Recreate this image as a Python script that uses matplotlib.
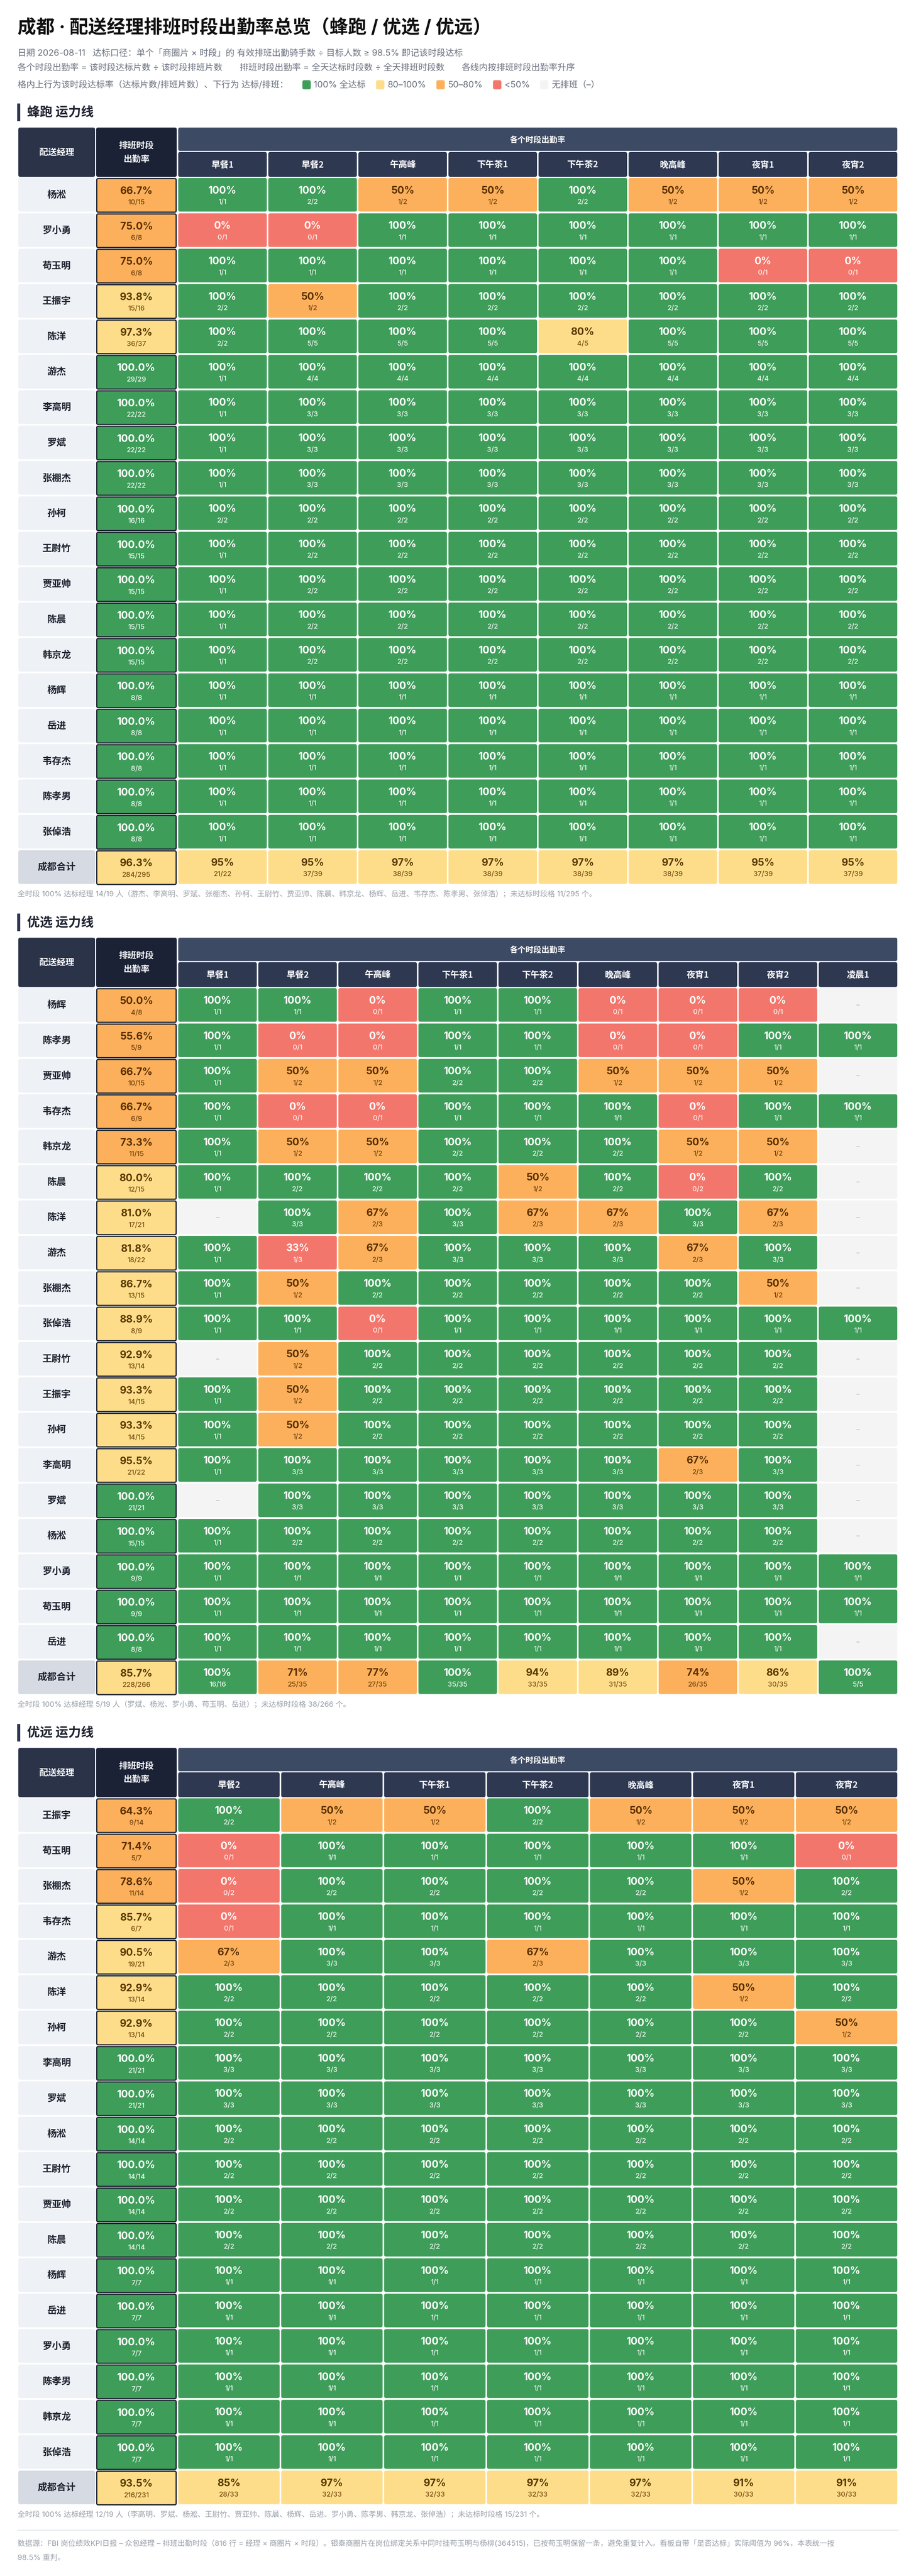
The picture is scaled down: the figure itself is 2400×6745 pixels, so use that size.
import matplotlib
matplotlib.use("Agg")
import matplotlib.pyplot as plt
from matplotlib.patches import FancyBboxPatch, Rectangle

# ---- data ---------------------------------------------------------------
fengpao_slots = ["早餐1", "早餐2", "午高峰", "下午茶1", "下午茶2", "晚高峰", "夜宵1", "夜宵2"]
fengpao_names = ["杨淞", "罗小勇", "苟玉明", "王振宇", "陈洋", "游杰", "李高明", "罗斌", "张棚杰",
                 "孙柯", "王尉竹", "贾亚帅", "陈晨", "韩京龙", "杨辉", "岳进", "韦存杰", "陈孝男", "张倬浩"]
fengpao_rates = ["10/15", "6/8", "6/8", "15/16", "36/37", "29/29", "22/22", "22/22", "22/22",
                 "16/16", "15/15", "15/15", "15/15", "15/15", "8/8", "8/8", "8/8", "8/8", "8/8"]
fengpao_cells = [
    "1/1 2/2 1/2 1/2 2/2 1/2 1/2 1/2",
    "0/1 0/1 1/1 1/1 1/1 1/1 1/1 1/1",
    "1/1 1/1 1/1 1/1 1/1 1/1 0/1 0/1",
    "2/2 1/2 2/2 2/2 2/2 2/2 2/2 2/2",
    "2/2 5/5 5/5 5/5 4/5 5/5 5/5 5/5",
    "1/1 4/4 4/4 4/4 4/4 4/4 4/4 4/4",
    "1/1 3/3 3/3 3/3 3/3 3/3 3/3 3/3",
    "1/1 3/3 3/3 3/3 3/3 3/3 3/3 3/3",
    "1/1 3/3 3/3 3/3 3/3 3/3 3/3 3/3",
    "2/2 2/2 2/2 2/2 2/2 2/2 2/2 2/2",
    "1/1 2/2 2/2 2/2 2/2 2/2 2/2 2/2",
    "1/1 2/2 2/2 2/2 2/2 2/2 2/2 2/2",
    "1/1 2/2 2/2 2/2 2/2 2/2 2/2 2/2",
    "1/1 2/2 2/2 2/2 2/2 2/2 2/2 2/2",
    "1/1 1/1 1/1 1/1 1/1 1/1 1/1 1/1",
    "1/1 1/1 1/1 1/1 1/1 1/1 1/1 1/1",
    "1/1 1/1 1/1 1/1 1/1 1/1 1/1 1/1",
    "1/1 1/1 1/1 1/1 1/1 1/1 1/1 1/1",
    "1/1 1/1 1/1 1/1 1/1 1/1 1/1 1/1",
]
fengpao_total_rate = "284/295"
fengpao_total_cells = "21/22 37/39 38/39 38/39 38/39 38/39 37/39 37/39"
fengpao_note = ("全时段 100% 达标经理 14/19 人（游杰、李高明、罗斌、张棚杰、孙柯、王尉竹、贾亚帅、陈晨、"
                "韩京龙、杨辉、岳进、韦存杰、陈孝男、张倬浩）；未达标时段格 11/295 个。")

youxuan_slots = ["早餐1", "早餐2", "午高峰", "下午茶1", "下午茶2", "晚高峰", "夜宵1", "夜宵2", "凌晨1"]
youxuan_names = ["杨辉", "陈孝男", "贾亚帅", "韦存杰", "韩京龙", "陈晨", "陈洋", "游杰", "张棚杰",
                 "张倬浩", "王尉竹", "王振宇", "孙柯", "李高明", "罗斌", "杨淞", "罗小勇", "苟玉明", "岳进"]
youxuan_rates = ["4/8", "5/9", "10/15", "6/9", "11/15", "12/15", "17/21", "18/22", "13/15",
                 "8/9", "13/14", "14/15", "14/15", "21/22", "21/21", "15/15", "9/9", "9/9", "8/8"]
youxuan_cells = [
    "1/1 1/1 0/1 1/1 1/1 0/1 0/1 0/1 -",
    "1/1 0/1 0/1 1/1 1/1 0/1 0/1 1/1 1/1",
    "1/1 1/2 1/2 2/2 2/2 1/2 1/2 1/2 -",
    "1/1 0/1 0/1 1/1 1/1 1/1 0/1 1/1 1/1",
    "1/1 1/2 1/2 2/2 2/2 2/2 1/2 1/2 -",
    "1/1 2/2 2/2 2/2 1/2 2/2 0/2 2/2 -",
    "- 3/3 2/3 3/3 2/3 2/3 3/3 2/3 -",
    "1/1 1/3 2/3 3/3 3/3 3/3 2/3 3/3 -",
    "1/1 1/2 2/2 2/2 2/2 2/2 2/2 1/2 -",
    "1/1 1/1 0/1 1/1 1/1 1/1 1/1 1/1 1/1",
    "- 1/2 2/2 2/2 2/2 2/2 2/2 2/2 -",
    "1/1 1/2 2/2 2/2 2/2 2/2 2/2 2/2 -",
    "1/1 1/2 2/2 2/2 2/2 2/2 2/2 2/2 -",
    "1/1 3/3 3/3 3/3 3/3 3/3 2/3 3/3 -",
    "- 3/3 3/3 3/3 3/3 3/3 3/3 3/3 -",
    "1/1 2/2 2/2 2/2 2/2 2/2 2/2 2/2 -",
    "1/1 1/1 1/1 1/1 1/1 1/1 1/1 1/1 1/1",
    "1/1 1/1 1/1 1/1 1/1 1/1 1/1 1/1 1/1",
    "1/1 1/1 1/1 1/1 1/1 1/1 1/1 1/1 -",
]
youxuan_total_rate = "228/266"
youxuan_total_cells = "16/16 25/35 27/35 35/35 33/35 31/35 26/35 30/35 5/5"
youxuan_note = "全时段 100% 达标经理 5/19 人（罗斌、杨淞、罗小勇、苟玉明、岳进）；未达标时段格 38/266 个。"

youyuan_slots = ["早餐2", "午高峰", "下午茶1", "下午茶2", "晚高峰", "夜宵1", "夜宵2"]
youyuan_names = ["王振宇", "苟玉明", "张棚杰", "韦存杰", "游杰", "陈洋", "孙柯", "李高明", "罗斌",
                 "杨淞", "王尉竹", "贾亚帅", "陈晨", "杨辉", "岳进", "罗小勇", "陈孝男", "韩京龙", "张倬浩"]
youyuan_rates = ["9/14", "5/7", "11/14", "6/7", "19/21", "13/14", "13/14", "21/21", "21/21",
                 "14/14", "14/14", "14/14", "14/14", "7/7", "7/7", "7/7", "7/7", "7/7", "7/7"]
youyuan_cells = [
    "2/2 1/2 1/2 2/2 1/2 1/2 1/2",
    "0/1 1/1 1/1 1/1 1/1 1/1 0/1",
    "0/2 2/2 2/2 2/2 2/2 1/2 2/2",
    "0/1 1/1 1/1 1/1 1/1 1/1 1/1",
    "2/3 3/3 3/3 2/3 3/3 3/3 3/3",
    "2/2 2/2 2/2 2/2 2/2 1/2 2/2",
    "2/2 2/2 2/2 2/2 2/2 2/2 1/2",
    "3/3 3/3 3/3 3/3 3/3 3/3 3/3",
    "3/3 3/3 3/3 3/3 3/3 3/3 3/3",
    "2/2 2/2 2/2 2/2 2/2 2/2 2/2",
    "2/2 2/2 2/2 2/2 2/2 2/2 2/2",
    "2/2 2/2 2/2 2/2 2/2 2/2 2/2",
    "2/2 2/2 2/2 2/2 2/2 2/2 2/2",
    "1/1 1/1 1/1 1/1 1/1 1/1 1/1",
    "1/1 1/1 1/1 1/1 1/1 1/1 1/1",
    "1/1 1/1 1/1 1/1 1/1 1/1 1/1",
    "1/1 1/1 1/1 1/1 1/1 1/1 1/1",
    "1/1 1/1 1/1 1/1 1/1 1/1 1/1",
    "1/1 1/1 1/1 1/1 1/1 1/1 1/1",
]
youyuan_total_rate = "216/231"
youyuan_total_cells = "28/33 32/33 32/33 32/33 32/33 30/33 30/33"
youyuan_note = ("全时段 100% 达标经理 12/19 人（李高明、罗斌、杨淞、王尉竹、贾亚帅、陈晨、杨辉、岳进、"
                "罗小勇、陈孝男、韩京龙、张倬浩）；未达标时段格 15/231 个。")

title = "成都 · 配送经理排班时段出勤率总览（蜂跑 / 优选 / 优远）"
sub1 = "日期 2026-08-11   达标口径：单个「商圈片 × 时段」的 有效排班出勤骑手数 ÷ 目标人数 ≥ 98.5% 即记该时段达标"
sub2 = ["各个时段出勤率 = 该时段达标片数 ÷ 该时段排班片数",
        "排班时段出勤率 = 全天达标时段数 ÷ 全天排班时段数",
        "各线内按排班时段出勤率升序"]
sub3 = "格内上行为该时段达标率（达标片数/排班片数）、下行为 达标/排班："
legend_labels = ["100% 全达标", "80–100%", "50–80%", "<50%", "无排班（–）"]
bottom_note = ["数据源：FBI 岗位绩效KPI日报 – 众包经理 – 排班出勤时段（816 行 = 经理 × 商圈片 × 时段）。"
               "银泰商圈片在岗位绑定关系中同时挂苟玉明与杨柳(364515)，已按苟玉明保留一条，避免重复计入。"
               "看板自带「是否达标」实际阈值为 96%，本表统一按",
               "98.5% 重判。"]

# ---- style --------------------------------------------------------------
CJK = ["Noto Sans CJK SC", "DejaVu Sans"]
NUM = ["Inter", "Noto Sans CJK SC", "DejaVu Sans"]
GREEN, YELLOW, ORANGE, RED, NONE = "#3f9d5a", "#fedd8a", "#fdb05b", "#f3766c", "#f4f4f5"
HEAD_NAME, HEAD_RATE, HEAD_BAND, HEAD_SLOT = "#2a3347", "#1b2236", "#3d4a63", "#2e3851"
NAME_BG, TOTAL_BG = "#eef1f6", "#d6dae3"
DARK = "#1f2633"

W, H = 2400, 6746
fig = plt.figure(figsize=(W / 100, H / 100), dpi=100)
ax = fig.add_axes([0, 0, 1, 1])
ax.set_xlim(0, W)
ax.set_ylim(H, 0)
ax.axis("off")
renderer = fig.canvas.get_renderer()

L, NAME_W, RATE_X, RATE_W, SLOT_X, R = 48, 201, 252, 211, 467, 2351
GAP, ROW_H, PITCH = 4, 88, 92.65


def box(x, y, w, h, fc, ec=None, lw=0, r=5):
    ax.add_patch(FancyBboxPatch((x, y), w, h, boxstyle=f"round,pad=0,rounding_size={r}",
                                fc=fc, ec=ec if ec else fc, lw=lw))


def colour(n, d):
    p = n / d
    if p >= 1:
        return GREEN, "white", "#eef8f1"
    if p >= 0.8:
        return YELLOW, "#5c3a00", "#7a4d12"
    if p >= 0.5:
        return ORANGE, "#5a3000", "#74420f"
    return RED, "white", "#fff0ee"


def value_cell(x, y, w, frac, decimals, border=False):
    if frac == "-":
        box(x, y, w, ROW_H, NONE)
        ax.text(x + w / 2, y + ROW_H / 2, "–", ha="center", va="center",
                fontsize=12, color="#a3a7ae", family=NUM)
        return
    n, d = [int(v) for v in frac.split("/")]
    fc, tc, sc = colour(n, d)
    if border:
        box(x, y, w, ROW_H, fc, ec=DARK, lw=2.3, r=4)
    else:
        box(x, y, w, ROW_H, fc)
    ax.text(x + w / 2, y + ROW_H * 0.37, f"{100 * n / d:.{decimals}f}%", ha="center", va="center",
            fontsize=19, fontweight="bold", color=tc, family=NUM)
    ax.text(x + w / 2, y + ROW_H * 0.71, frac, ha="center", va="center",
            fontsize=13, fontweight="medium", color=sc, family=NUM)


def draw_table(top, line, slots, names, rates, cells, total_rate, total_cells, note):
    # section heading
    ax.add_patch(Rectangle((45, top - 63), 8, 46, color="#2b3752", lw=0))
    ax.text(71, top - 40, f"{line} 运力线", ha="left", va="center", fontsize=24,
            fontweight="bold", color="#1f2430", family=CJK)

    # header
    box(L, top, NAME_W, 129, HEAD_NAME)
    ax.text(L + NAME_W / 2, top + 65, "配送经理", ha="center", va="center", fontsize=16.5,
            fontweight="bold", color="white", family=CJK)
    box(RATE_X, top, RATE_W, 129, HEAD_RATE)
    ax.text(RATE_X + RATE_W / 2, top + 47, "排班时段", ha="center", va="center", fontsize=16.5,
            fontweight="bold", color="white", family=CJK)
    ax.text(RATE_X + RATE_W / 2, top + 82, "出勤率", ha="center", va="center", fontsize=16.5,
            fontweight="bold", color="white", family=CJK)
    box(SLOT_X, top, R - SLOT_X, 61, HEAD_BAND)
    ax.text((SLOT_X + R) / 2, top + 31, "各个时段出勤率", ha="center", va="center", fontsize=15,
            fontweight="bold", color="white", family=CJK)

    n = len(slots)
    pitch = (R - SLOT_X + GAP) / n
    cw = pitch - GAP
    for i, s in enumerate(slots):
        x = SLOT_X + i * pitch
        box(x, top + 64, cw, 65, HEAD_SLOT)
        ax.text(x + cw / 2, top + 97, s, ha="center", va="center", fontsize=16.5,
                fontweight="bold", color="white", family=CJK)

    rows = list(zip(names, rates, cells)) + [("成都合计", total_rate, total_cells)]
    for r, (name, rate, row) in enumerate(rows):
        y = top + 132 + r * PITCH
        is_total = r == len(rows) - 1
        box(L, y, NAME_W, ROW_H, TOTAL_BG if is_total else NAME_BG)
        ax.text(L + NAME_W / 2, y + ROW_H / 2, name, ha="center", va="center", fontsize=18,
                fontweight="bold", color="#1f2430", family=CJK)
        value_cell(RATE_X + 1.5, y + 1.5, RATE_W - 3, rate, 1, border=True)
        for i, frac in enumerate(row.split()):
            value_cell(SLOT_X + i * pitch, y, cw, frac, 0)

    foot_y = top + 132 + (len(rows) - 1) * PITCH + ROW_H + 26
    ax.text(46, foot_y, note, ha="left", va="center", fontsize=14, color="#9aa0a9", family=NUM)
    return foot_y


# ---- page header -------------------------------------------------------
ax.text(46, 74, title, ha="left", va="center", fontsize=35, fontweight="bold",
        color="#111111", family=NUM)
ax.text(46, 140, sub1, ha="left", va="center", fontsize=16.5, color="#6b7280", family=NUM)
x = 46
for seg in sub2:
    t = ax.text(x, 179, seg, ha="left", va="center", fontsize=16.5, color="#6b7280", family=NUM)
    x = t.get_window_extent(renderer).x1 + 45
t = ax.text(46, 223, sub3, ha="left", va="center", fontsize=16.5, color="#6b7280", family=NUM)
x = t.get_window_extent(renderer).x1 + 37
for lab, c in zip(legend_labels, [GREEN, YELLOW, ORANGE, RED, NONE]):
    box(x, 211, 22, 24, c, r=5)
    t = ax.text(x + 30, 223, lab, ha="left", va="center", fontsize=16.5, color="#6b7280", family=NUM)
    x = t.get_window_extent(renderer).x1 + 27

# ---- tables -----------------------------------------------------------
top = 335
foot = draw_table(top, "蜂跑", fengpao_slots, fengpao_names, fengpao_rates, fengpao_cells,
                  fengpao_total_rate, fengpao_total_cells, fengpao_note)
top = foot + 115
foot = draw_table(top, "优选", youxuan_slots, youxuan_names, youxuan_rates, youxuan_cells,
                  youxuan_total_rate, youxuan_total_cells, youxuan_note)
top = foot + 115
foot = draw_table(top, "优远", youyuan_slots, youyuan_names, youyuan_rates, youyuan_cells,
                  youyuan_total_rate, youyuan_total_cells, youyuan_note)

# ---- bottom note ------------------------------------------------------
ax.plot([46, 2354], [foot + 42, foot + 42], color="#e5e7eb", lw=1.5)
ax.text(46, foot + 76, bottom_note[0], ha="left", va="center", fontsize=14, color="#9aa0a9", family=NUM)
ax.text(46, foot + 114, bottom_note[1], ha="left", va="center", fontsize=14, color="#9aa0a9", family=NUM)

fig.savefig("out.png", dpi=100, facecolor="white")
